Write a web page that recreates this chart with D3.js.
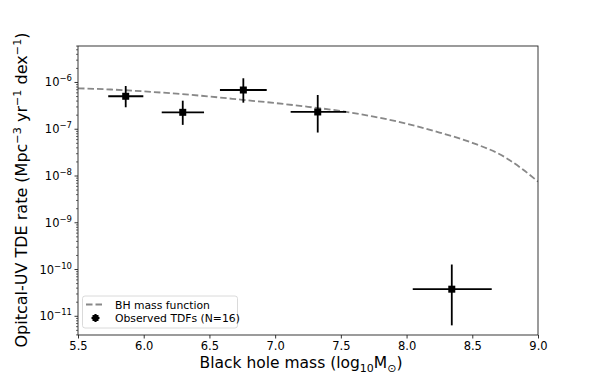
<!DOCTYPE html>
<html><head><meta charset="utf-8">
<script src="https://cdn.jsdelivr.net/npm/d3@7"></script>
<style>body{margin:0;background:#fff}svg{display:block;font-family:"DejaVu Sans",sans-serif}</style>
</head><body><svg id="c" width="598" height="389"></svg>
<script>
// BH mass function curve (log10 mass, log10 rate)
const curveMass = [5.5,5.75,6.0,6.25,6.5,6.75,7.0,7.25,7.5,7.75,8.0,8.25,8.5,8.75,8.875,9.0];
const curveLogRate = [-6.125,-6.15,-6.19,-6.24,-6.30,-6.37,-6.44,-6.52,-6.61,-6.73,-6.88,-7.07,-7.29,-7.60,-7.84,-8.12];
// observed TDF bins
const obsMass = [5.863,6.297,6.758,7.324,8.344];
const obsMassLo = [5.73,6.137,6.58,7.118,8.047];
const obsMassHi = [5.997,6.459,6.936,7.54,8.648];
const obsRate = [5.07e-7,2.3e-7,6.9e-7,2.34e-7,3.8e-11];
const obsRateLo = [2.95e-7,1.24e-7,3.7e-7,8.5e-8,6.4e-12];
const obsRateHi = [8.4e-7,4.08e-7,1.23e-6,5.4e-7,1.28e-10];
const xTicks = [5.5,6.0,6.5,7.0,7.5,8.0,8.5,9.0];
const yTickExps = [-6,-7,-8,-9,-10,-11];
const legendLabels = ["BH mass function","Observed TDFs (N=16)"];

const svg = d3.select("#c");
const L=78,R=538,T=46,B=335;
const x = d3.scaleLinear().domain([5.5,9.0]).range([L,R]);
const y = d3.scaleLog().domain([Math.pow(10,-11.40),Math.pow(10,-5.22)]).range([B,T]);

// axes
const xAxis = d3.axisBottom(x).tickValues(xTicks).tickFormat(d3.format(".1f")).tickSize(3.5).tickPadding(3);
const gx = svg.append("g").attr("transform",`translate(0,${B})`).call(xAxis);
gx.select(".domain").remove();
gx.selectAll("text").attr("font-size",11.5).attr("fill","#000").attr("font-family","DejaVu Sans");
gx.selectAll("line").attr("stroke","#000").attr("stroke-width",0.8);

// y ticks major
const majors = yTickExps.map(e=>Math.pow(10,e));
const minors = [];
for(let e=-12;e<=-5;e++){for(let k=2;k<=9;k++){const v=k*Math.pow(10,e); if(v>=y.domain()[0]&&v<=y.domain()[1]) minors.push(v);}}
const gy = svg.append("g");
gy.selectAll("line.maj").data(majors).join("line").attr("x1",L-3.5).attr("x2",L).attr("y1",d=>y(d)).attr("y2",d=>y(d)).attr("stroke","#000").attr("stroke-width",0.8);
gy.selectAll("line.min").data(minors).join("line").attr("x1",L-2).attr("x2",L).attr("y1",d=>y(d)).attr("y2",d=>y(d)).attr("stroke","#000").attr("stroke-width",0.6);
const yl = gy.selectAll("text").data(yTickExps).join("text").attr("x",L-6).attr("y",d=>y(Math.pow(10,d))+4).attr("text-anchor","end").attr("font-size",11.5);
yl.append("tspan").text("10");
yl.append("tspan").attr("dy",-5).attr("font-size",8.5).text(d=>"\u2212"+Math.abs(d));

// curve
const line = d3.line().x((d,i)=>x(curveMass[i])).y((d,i)=>y(Math.pow(10,curveLogRate[i]))).curve(d3.curveMonotoneX);
svg.append("clipPath").attr("id","clip").append("rect").attr("x",L).attr("y",T).attr("width",R-L).attr("height",B-T);
svg.append("path").datum(curveMass).attr("d",line).attr("fill","none").attr("stroke","#888").attr("stroke-width",1.8).attr("stroke-dasharray","6.5,3").attr("clip-path","url(#clip)");

// error bars
const g = svg.append("g");
obsMass.forEach((m,i)=>{
  g.append("line").attr("x1",x(obsMassLo[i])).attr("x2",x(obsMassHi[i])).attr("y1",y(obsRate[i])).attr("y2",y(obsRate[i])).attr("stroke","#000").attr("stroke-width",1.8);
  g.append("line").attr("x1",x(m)).attr("x2",x(m)).attr("y1",y(obsRateLo[i])).attr("y2",y(obsRateHi[i])).attr("stroke","#000").attr("stroke-width",1.8);
  g.append("rect").attr("x",x(m)-3.5).attr("y",y(obsRate[i])-3.5).attr("width",7).attr("height",7).attr("fill","#000");
});

// frame
svg.append("rect").attr("x",L).attr("y",T).attr("width",R-L).attr("height",B-T).attr("fill","none").attr("stroke","#222").attr("stroke-width",0.9);

// legend
const lg = svg.append("g");
lg.append("rect").attr("x",82.5).attr("y",296).attr("width",155).attr("height",32).attr("rx",2.5).attr("fill","#fff").attr("fill-opacity",0.8).attr("stroke","#d0d0d0").attr("stroke-width",0.8);
lg.append("line").attr("x1",86).attr("x2",105).attr("y1",304.5).attr("y2",304.5).attr("stroke","#888").attr("stroke-width",1.8).attr("stroke-dasharray","6.5,3");
lg.append("line").attr("x1",91.5).attr("x2",99.5).attr("y1",318).attr("y2",318).attr("stroke","#000").attr("stroke-width",2.2);
lg.append("line").attr("x1",95.5).attr("x2",95.5).attr("y1",314).attr("y2",322).attr("stroke","#000").attr("stroke-width",2.2);
lg.append("rect").attr("x",92.5).attr("y",315).attr("width",6).attr("height",6).attr("fill","#000");
lg.selectAll("text").data(legendLabels).join("text").attr("x",115).attr("y",(d,i)=>308.5+i*13.7).attr("font-size",10.8).text(d=>d);

// axis labels
const xl = svg.append("text").attr("x",301).attr("y",368).attr("text-anchor","middle").attr("font-size",15.5);
xl.append("tspan").text("Black hole mass (log");
xl.append("tspan").attr("dy",4).attr("font-size",11).text("10");
xl.append("tspan").attr("dy",-4).text("M");
xl.append("tspan").attr("dy",4).attr("font-size",11).text("\u2299");
xl.append("tspan").attr("dy",-4).text(")");

const ylab = svg.append("text").attr("transform",`translate(27,${(T+B)/2-0.5}) rotate(-90)`).attr("text-anchor","middle").attr("font-size",16);
ylab.append("tspan").text("Opitcal-UV TDE rate (Mpc");
ylab.append("tspan").attr("dy",-6).attr("font-size",11.2).text("\u22123");
ylab.append("tspan").attr("dy",6).text(" yr");
ylab.append("tspan").attr("dy",-6).attr("font-size",11.2).text("\u22121");
ylab.append("tspan").attr("dy",6).text(" dex");
ylab.append("tspan").attr("dy",-6).attr("font-size",11.2).text("\u22121");
ylab.append("tspan").attr("dy",6).text(")");
</script></body></html>
